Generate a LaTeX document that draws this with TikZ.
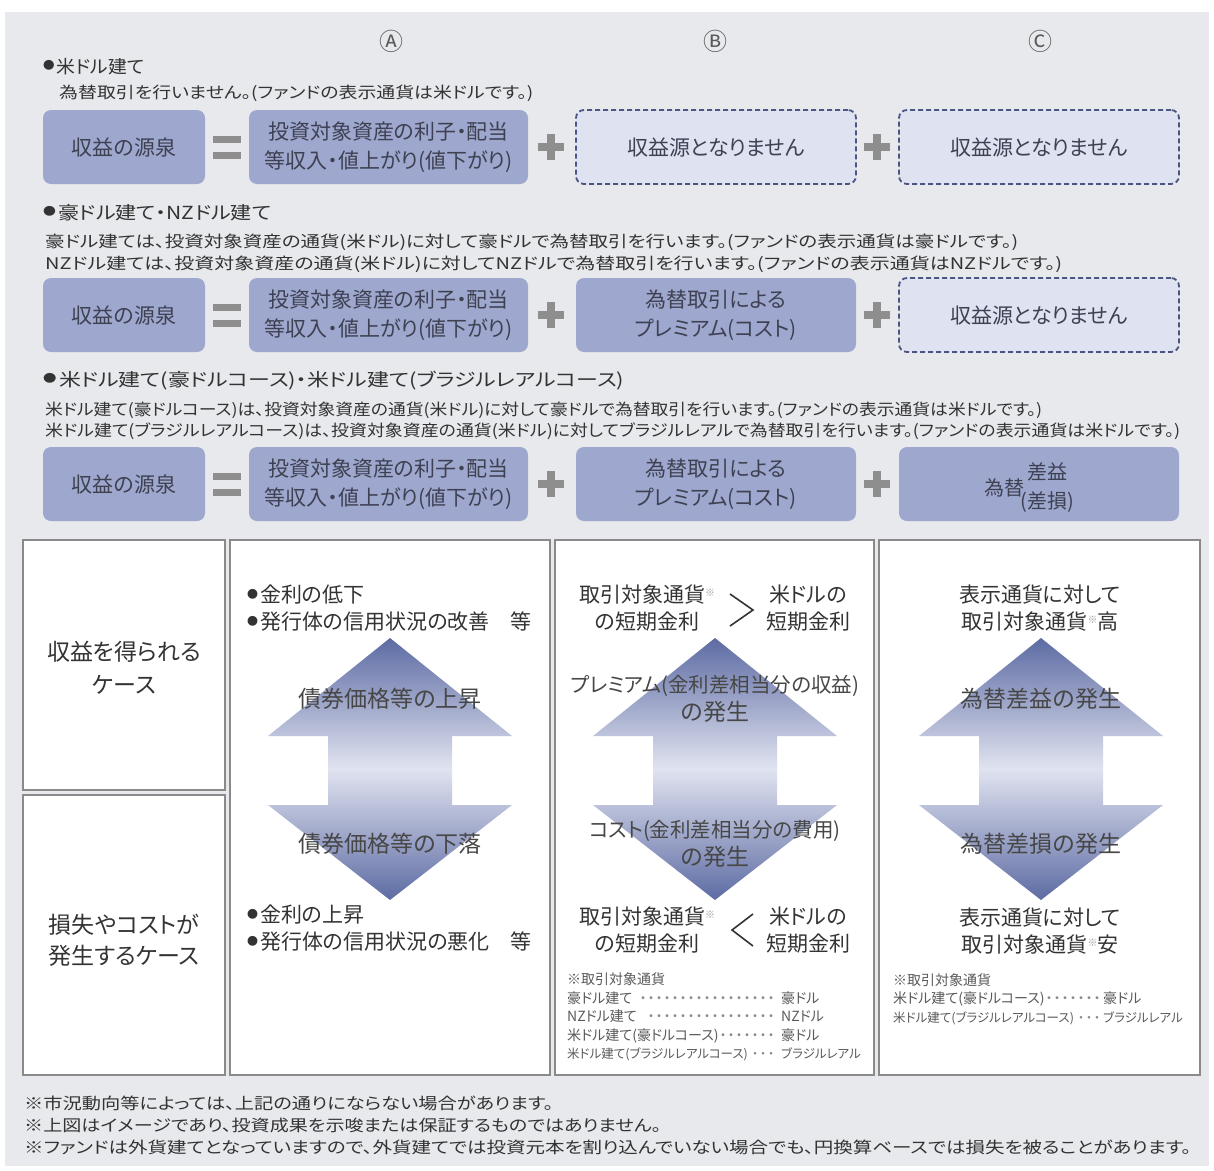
\documentclass[tikz,border=0pt]{standalone}
\usepackage{xcolor}
\usepackage{graphicx}
\usepackage{fontspec}
\setmainfont{Noto Sans CJK JP}[RawFeature=+palt]
\usepackage{tikz}
\usetikzlibrary{positioning}

\definecolor{panelgray}{HTML}{E8E9EC}
\definecolor{boxblue}{HTML}{9EA7CE}
\definecolor{boxtext}{HTML}{3E4152}
\definecolor{nonefill}{HTML}{DEE2F1}
\definecolor{dashblue}{HTML}{4A5584}
\definecolor{signgray}{HTML}{8E8E8E}
\definecolor{cellgray}{HTML}{8A8A8A}
\definecolor{arrdark}{HTML}{5D6BA3}
\definecolor{arrlight}{HTML}{E0E3F0}
\definecolor{txtdark}{HTML}{333333}
\definecolor{notegray}{HTML}{5A5A5A}

\newcommand\fsz[2]{\fontsize{#1}{#2}\selectfont}
\newcommand\fitw[2]{\resizebox{#1}{\height}{#2}}
\newcommand\bul{{\fsz{11}{11}\raisebox{4pt}{●}}\hspace{2pt}}
\newcommand\kome{{\color{notegray!60}\fsz{10}{10}\raisebox{6pt}{※}}}
\newcommand\leadrow[3]{\makebox[#1][l]{#2\leaders\hbox to 8pt{\hss{\color{notegray!70}・}\hss}\hfill}#3}

\tikzset{
    srcbox/.style={rounded corners=8pt, fill=boxblue, text=boxtext,
        minimum height=74pt, align=center, font=\fsz{21}{29}, inner sep=0pt},
    nonebox/.style={srcbox, fill=nonefill, draw=dashblue, line width=1.8pt,
        dash pattern=on 5pt off 3pt},
    headtext/.style={anchor=west, text=txtdark, font=\fsz{18}{22}, inner sep=0pt},
    desctext/.style={anchor=west, text=txtdark, font=\fsz{16}{22}, inner sep=0pt},
    celltext/.style={text=txtdark, font=\fsz{21}{27}, align=center, inner sep=0pt},
    arrlabel/.style={text=txtdark!90, font=\fsz{23}{28}, align=center, inner sep=0pt},
    notetext/.style={anchor=west, text=notegray, font=\fsz{14}{18.5}, align=left, inner sep=0pt},
    marktext/.style={text=notegray, font=\fsz{24}{24}, inner sep=0pt},
    cellbox/.style={draw=cellgray, line width=2.5pt, fill=white},
    cmpline/.style={draw=txtdark, line width=1.6pt},
    pics/eqsign/.style={code={
        \fill[signgray] (-14,-11.5) rectangle (14,-4.5);
        \fill[signgray] (-14,4.5) rectangle (14,11.5);
    }},
    pics/plussign/.style={code={
        \fill[signgray] (-13,-4) rectangle (13,4);
        \fill[signgray] (-4,-13) rectangle (4,13);
    }},
    pics/updown/.style args={#1/#2}{
    code = {
        \shade[top color=arrdark, bottom color=arrdark, middle color=arrlight]
            (0,0) -- (122,98) -- (62,98) -- (62,167) -- (122,167) -- (0,262)
            -- (-122,167) -- (-62,167) -- (-62,98) -- (-122,98) -- cycle;
        \node[arrlabel] (-up) at (0,61) {#1};
        \node[arrlabel] (-down) at (0,206) {#2};
    }}
}

\begin{document}
\begin{tikzpicture}[x=1pt, y=-1pt]
    \useasboundingbox (0,0) rectangle (1214,1170);
    \fill[white] (0,0) rectangle (1214,1170);
    \fill[panelgray] (5,12) rectangle (1209,1166);

    % column marks
    \node[marktext] (markA) at (391,41) {Ⓐ};
    \node[marktext] (markB) at (715,41) {Ⓑ};
    \node[marktext] (markC) at (1040,41) {Ⓒ};

    % US dollar class
    \node[headtext] (head1) at (43,67) {\fitw{101pt}{\bul 米ドル建て}};
    \node[desctext] (desc1) at (59,93) {\fitw{474pt}{為替取引を行いません。(ファンドの表示通貨は米ドルです。)}};
    \node[srcbox, minimum width=162pt] (src1) at (124,147) {収益の源泉};
    \pic (eq1) at (227,147) {eqsign};
    \node[srcbox, minimum width=279pt] (inc1) at (388.5,147) {投資対象資産の利子・配当\\等収入・値上がり(値下がり)};
    \pic (plusa1) at (551,147) {plussign};
    \node[nonebox, minimum width=280pt] (prem1) at (716,147) {収益源となりません};
    \pic (plusb1) at (877,147) {plussign};
    \node[nonebox, minimum width=280pt] (fx1) at (1039,147) {収益源となりません};

    % AUD and NZD classes
    \node[headtext] (head2) at (43,213) {\fitw{228pt}{\bul 豪ドル建て・NZドル建て}};
    \node[desctext] (desc2a) at (45,242) {\fitw{973pt}{豪ドル建ては、投資対象資産の通貨(米ドル)に対して豪ドルで為替取引を行います。(ファンドの表示通貨は豪ドルです。)}};
    \node[desctext] (desc2b) at (45,264) {\fitw{1017pt}{NZドル建ては、投資対象資産の通貨(米ドル)に対してNZドルで為替取引を行います。(ファンドの表示通貨はNZドルです。)}};
    \node[srcbox, minimum width=162pt] (src2) at (124,315) {収益の源泉};
    \pic (eq2) at (227,315) {eqsign};
    \node[srcbox, minimum width=279pt] (inc2) at (388.5,315) {投資対象資産の利子・配当\\等収入・値上がり(値下がり)};
    \pic (plusa2) at (551,315) {plussign};
    \node[srcbox, minimum width=280pt] (prem2) at (716,315) {為替取引による\\プレミアム(コスト)};
    \pic (plusb2) at (877,315) {plussign};
    \node[nonebox, minimum width=280pt] (fx2) at (1039,315) {収益源となりません};

    % USD courses
    \node[headtext] (head3) at (43,381) {\fitw{581pt}{\bul 米ドル建て(豪ドルコース)・米ドル建て(ブラジルレアルコース)}};
    \node[desctext] (desc3a) at (45,410) {\fitw{997pt}{米ドル建て(豪ドルコース)は、投資対象資産の通貨(米ドル)に対して豪ドルで為替取引を行います。(ファンドの表示通貨は米ドルです。)}};
    \node[desctext] (desc3b) at (45,431) {\fitw{1135pt}{米ドル建て(ブラジルレアルコース)は、投資対象資産の通貨(米ドル)に対してブラジルレアルで為替取引を行います。(ファンドの表示通貨は米ドルです。)}};
    \node[srcbox, minimum width=162pt] (src3) at (124,484) {収益の源泉};
    \pic (eq3) at (227,484) {eqsign};
    \node[srcbox, minimum width=279pt] (inc3) at (388.5,484) {投資対象資産の利子・配当\\等収入・値上がり(値下がり)};
    \pic (plusa3) at (551,484) {plussign};
    \node[srcbox, minimum width=280pt] (prem3) at (716,484) {為替取引による\\プレミアム(コスト)};
    \pic (plusb3) at (877,484) {plussign};
    \node[srcbox, minimum width=280pt] (fx3) at (1039,484) {};
    \node[text=boxtext, font=\fsz{20}{20}, inner sep=0pt] (fxa) at (1004,488) {為替};
    \node[text=boxtext, font=\fsz{20}{29}, align=center, inner sep=0pt] (fxb) at (1047,488) {差益\\(差損)};

    % table cells
    \draw[cellbox] (23,540) rectangle (225,790);
    \draw[cellbox] (23,795) rectangle (225,1075);
    \draw[cellbox] (230,540) rectangle (550,1075);
    \draw[cellbox] (555,540) rectangle (874,1075);
    \draw[cellbox] (879,540) rectangle (1200,1075);

    \node[celltext, font=\fsz{23}{33}] (gain) at (124,668) {収益を得られる\\ケース};
    \node[celltext, font=\fsz{23}{31}] (loss) at (124,940) {損失やコストが\\発生するケース};

    % column A
    \node[celltext, anchor=west] (aup1) at (247,595) {\bul 金利の低下};
    \node[celltext, anchor=west] (aup2) at (247,622) {\bul 発行体の信用状況の改善　等};
    \pic (arrA) at (390,638) {updown=債券価格等の上昇/債券価格等の下落};
    \node[celltext, anchor=west] (adn1) at (247,915) {\bul 金利の上昇};
    \node[celltext, anchor=west] (adn2) at (247,942) {\bul 発行体の信用状況の悪化　等};

    % column B
    \node[celltext] (bcur1) at (647,608) {取引対象通貨\kome\\の短期金利};
    \draw[cmpline] (730,594) -- (753,610) -- (730,626);
    \node[celltext] (busd1) at (808,608) {米ドルの\\短期金利};
    \pic (arrB) at (715,638) {updown={\fsz{20.5}{28}プレミアム(金利差相当分の収益)\\の発生}/{\fsz{20.5}{28}コスト(金利差相当分の費用)\\の発生}};
    \node[celltext] (bcur2) at (647,930) {取引対象通貨\kome\\の短期金利};
    \draw[cmpline] (753,914) -- (732,930) -- (753,946);
    \node[celltext] (busd2) at (808,930) {米ドルの\\短期金利};
    \node[notetext] (bnote) at (567,1017) {※取引対象通貨\\
        \leadrow{214pt}{豪ドル建て\ }{豪ドル}\\
        \leadrow{214pt}{NZドル建て\ }{NZドル}\\
        \leadrow{214pt}{米ドル建て(豪ドルコース)}{豪ドル}\\
        {\fsz{12.5}{18.5}\leadrow{214pt}{米ドル建て(ブラジルレアルコース)}{ブラジルレアル}}};

    % column C
    \node[celltext] (ctop) at (1040,608) {表示通貨に対して\\取引対象通貨\kome 高};
    \pic (arrC) at (1041,638) {updown=為替差益の発生/為替差損の発生};
    \node[celltext] (cbot) at (1040,931) {表示通貨に対して\\取引対象通貨\kome 安};
    \node[notetext] (cnote) at (893,999) {※取引対象通貨\\
        \leadrow{210pt}{米ドル建て(豪ドルコース)}{豪ドル}\\
        {\fsz{12.5}{18.5}\leadrow{210pt}{米ドル建て(ブラジルレアルコース)}{ブラジルレアル}}};

    % notes
    \node[desctext] (foot1) at (24,1103) {\fitw{529pt}{※市況動向等によっては、上記の通りにならない場合があります。}};
    \node[desctext] (foot2) at (24,1125) {\fitw{637pt}{※上図はイメージであり、投資成果を示唆または保証するものではありません。}};
    \node[desctext] (foot3) at (24,1147) {\fitw{1167pt}{※ファンドは外貨建てとなっていますので、外貨建てでは投資元本を割り込んでいない場合でも、円換算ベースでは損失を被ることがあります。}};
\end{tikzpicture}
\end{document}
